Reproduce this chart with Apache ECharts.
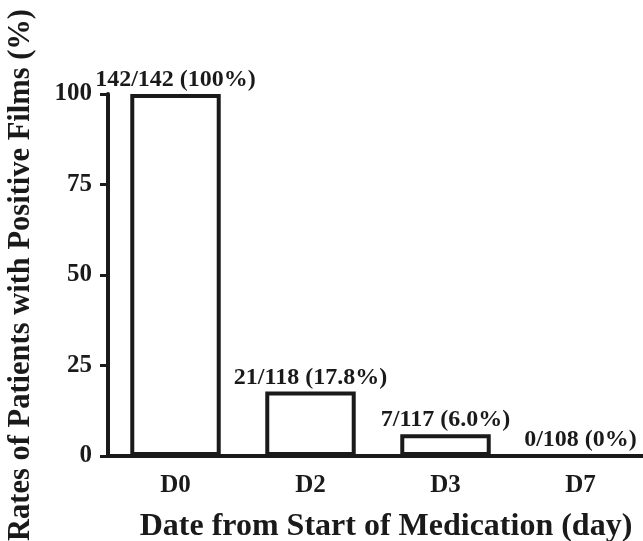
<!DOCTYPE html>
<html>
<head>
<meta charset="utf-8">
<script src="https://cdn.jsdelivr.net/npm/echarts@6/dist/echarts.min.js"></script>
<style>html,body{margin:0;padding:0;background:#fff}#c{width:643px;height:541px}</style>
</head>
<body>
<div id="c"></div>
<script>
var categories = ['D0', 'D2', 'D3', 'D7'];
var rates = [100, 17.8, 6.0, 0];
var barLabels = ['142/142 (100%)', '21/118 (17.8%)', '7/117 (6.0%)', '0/108 (0%)'];
var yTicks = [0, 25, 50, 75, 100];

var font = 'Liberation Serif';
var ink = '#1a1a1a';
var chart = echarts.init(document.getElementById('c'));
chart.setOption({
  animation: false,
  grid: { left: 108, right: -5, top: 94, bottom: 85, containLabel: false, outerBoundsMode: 'none' },
  xAxis: {
    type: 'category',
    data: categories,
    name: 'Date from Start of Medication (day)',
    nameLocation: 'middle',
    nameGap: 55,
    nameTextStyle: { fontFamily: font, fontWeight: 'bold', fontSize: 32, color: ink, padding: [0, 0, 0, 16] },
    axisLine: { lineStyle: { color: ink, width: 4 } },
    axisTick: { alignWithLabel: true, length: 8, lineStyle: { color: ink, width: 3 } },
    axisLabel: { fontFamily: font, fontWeight: 'bold', fontSize: 25, color: ink, margin: 17 }
  },
  yAxis: {
    type: 'value',
    min: 0, max: 100, interval: 25,
    name: 'Rates of Patients with Positive Films (%)',
    nameLocation: 'middle',
    nameGap: 71,
    nameTextStyle: { fontFamily: font, fontWeight: 'bold', fontSize: 30.5, color: ink },
    axisLine: { show: true, lineStyle: { color: ink, width: 4 } },
    axisTick: { show: true, length: 8, lineStyle: { color: ink, width: 3 } },
    splitLine: { show: false },
    axisLabel: {
      fontFamily: font, fontWeight: 'bold', fontSize: 25, color: ink, margin: 16,
      formatter: function (v) { return yTicks.indexOf(v) >= 0 ? String(v) : ''; }
    }
  },
  series: [{
    type: 'bar',
    data: rates,
    barWidth: '67%',
    itemStyle: { color: '#fff', borderColor: ink, borderWidth: 4 },
    label: {
      show: true, position: 'top', distance: 2,
      fontFamily: font, fontWeight: 'bold', fontSize: 24, color: ink,
      formatter: function (p) { return barLabels[p.dataIndex]; }
    }
  }]
});
</script>
</body>
</html>
